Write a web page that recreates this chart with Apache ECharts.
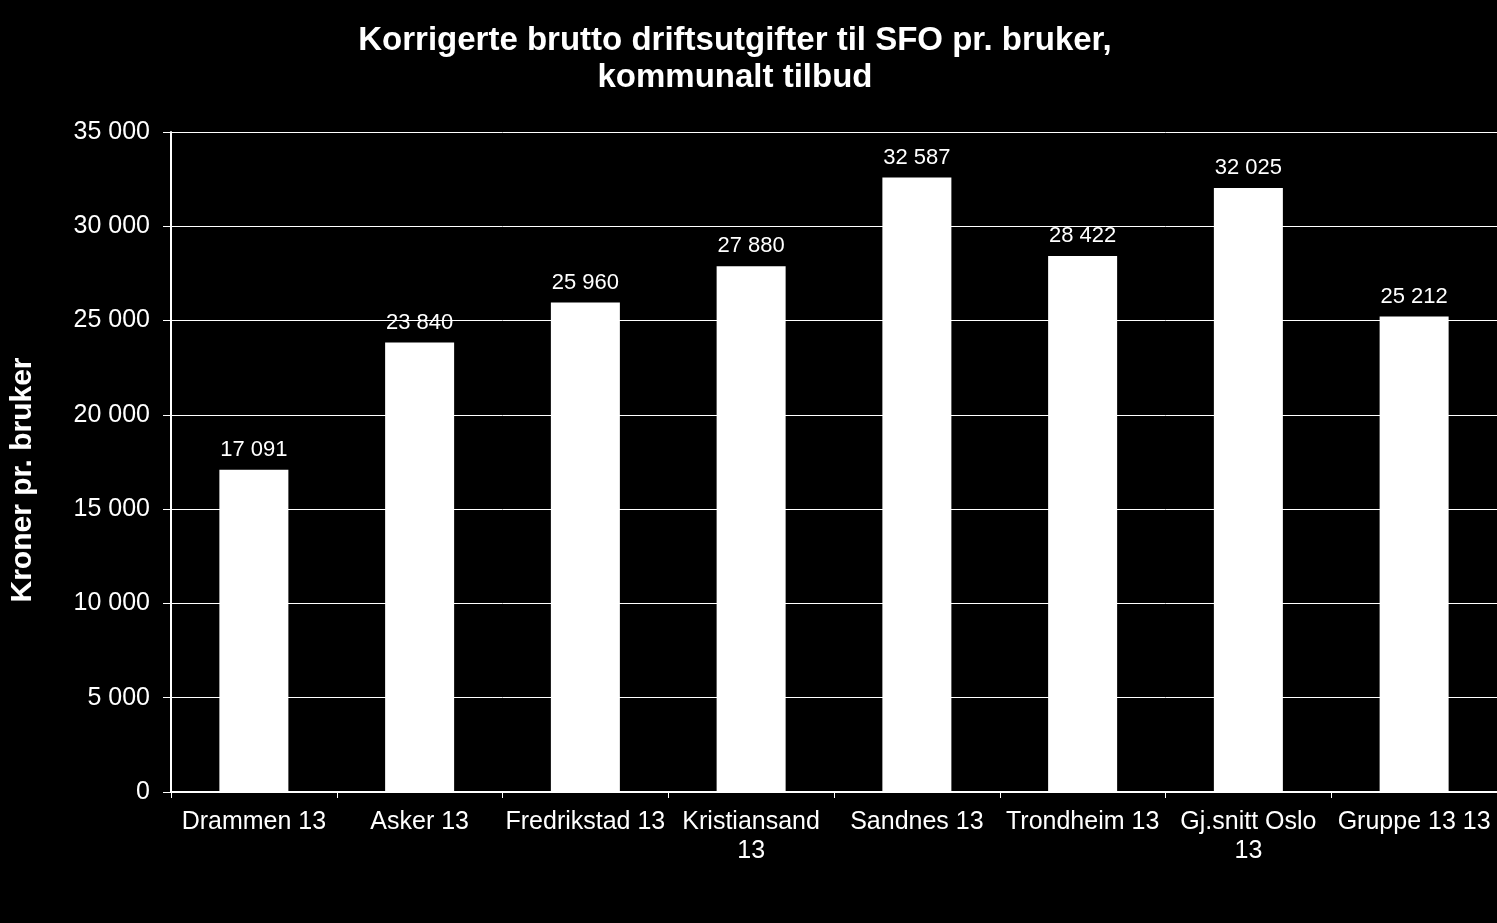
<!DOCTYPE html>
<html>
<head>
<meta charset="utf-8">
<script src="https://cdn.jsdelivr.net/npm/echarts@6/dist/echarts.min.js"></script>
<style>
html,body{margin:0;padding:0;background:#000;}
#c{width:1497px;height:923px;}
</style>
</head>
<body>
<div id="c"></div>
<script>
const categories = ["Drammen 13","Asker 13","Fredrikstad 13","Kristiansand\n13","Sandnes 13","Trondheim 13","Gj.snitt Oslo\n13","Gruppe 13 13"];
const values = [17091, 23840, 25960, 27880, 32587, 28422, 32025, 25212];
const yTicks = [0, 5000, 10000, 15000, 20000, 25000, 30000, 35000];
const titleText = "Korrigerte brutto driftsutgifter til SFO pr. bruker,\nkommunalt tilbud";
const yAxisName = "Kroner pr. bruker";

function fmt(v){ return String(v).replace(/\B(?=(\d{3})+(?!\d))/g, ' '); }

const FONT = 'Liberation Sans, Arial, sans-serif';
const chart = echarts.init(document.getElementById('c'), null, {renderer:'canvas'});
chart.setOption({
  backgroundColor: '#000',
  animation: false,
  textStyle: {fontFamily: FONT},
  title: {
    text: titleText,
    left: 730, top: 17, textAlign: 'center',
    textStyle: {color:'#fff', fontSize: 33, fontWeight:'bold', lineHeight: 37, fontFamily: FONT}
  },
  grid: {left: 171, right: 0, top: 132, bottom: 131, containLabel: false},
  xAxis: {
    type: 'category',
    data: categories,
    axisLine: {lineStyle:{color:'#fff', width:2}},
    axisTick: {show:true, length:6, lineStyle:{color:'#fff', width:1}},
    axisLabel: {color:'#fff', fontSize: 25, lineHeight: 29, margin: 16, interval: 0, fontFamily: FONT}
  },
  yAxis: {
    type: 'value',
    min: yTicks[0], max: yTicks[yTicks.length-1], interval: 5000,
    name: yAxisName,
    nameLocation: 'middle',
    nameGap: 133,
    nameRotate: 90,
    nameTextStyle: {color:'#fff', fontSize: 30, fontWeight:'bold', fontFamily: FONT, padding: [0, 36, 0, 0]},
    axisLine: {show:true, lineStyle:{color:'#fff', width:2}},
    axisTick: {show:true, length:8, lineStyle:{color:'#fff', width:1}},
    axisLabel: {color:'#fff', fontSize: 25, margin: 21, formatter: fmt, fontFamily: FONT},
    splitLine: {show:true, lineStyle:{color:'#fff', width:1}}
  },
  series: [{
    type: 'bar',
    data: values,
    barWidth: 69,
    itemStyle: {color:'#fff'},
    label: {show:true, position:'top', distance: 9, color:'#fff', fontSize: 22, formatter: p => fmt(p.value), fontFamily: FONT}
  }]
});
</script>
</body>
</html>
